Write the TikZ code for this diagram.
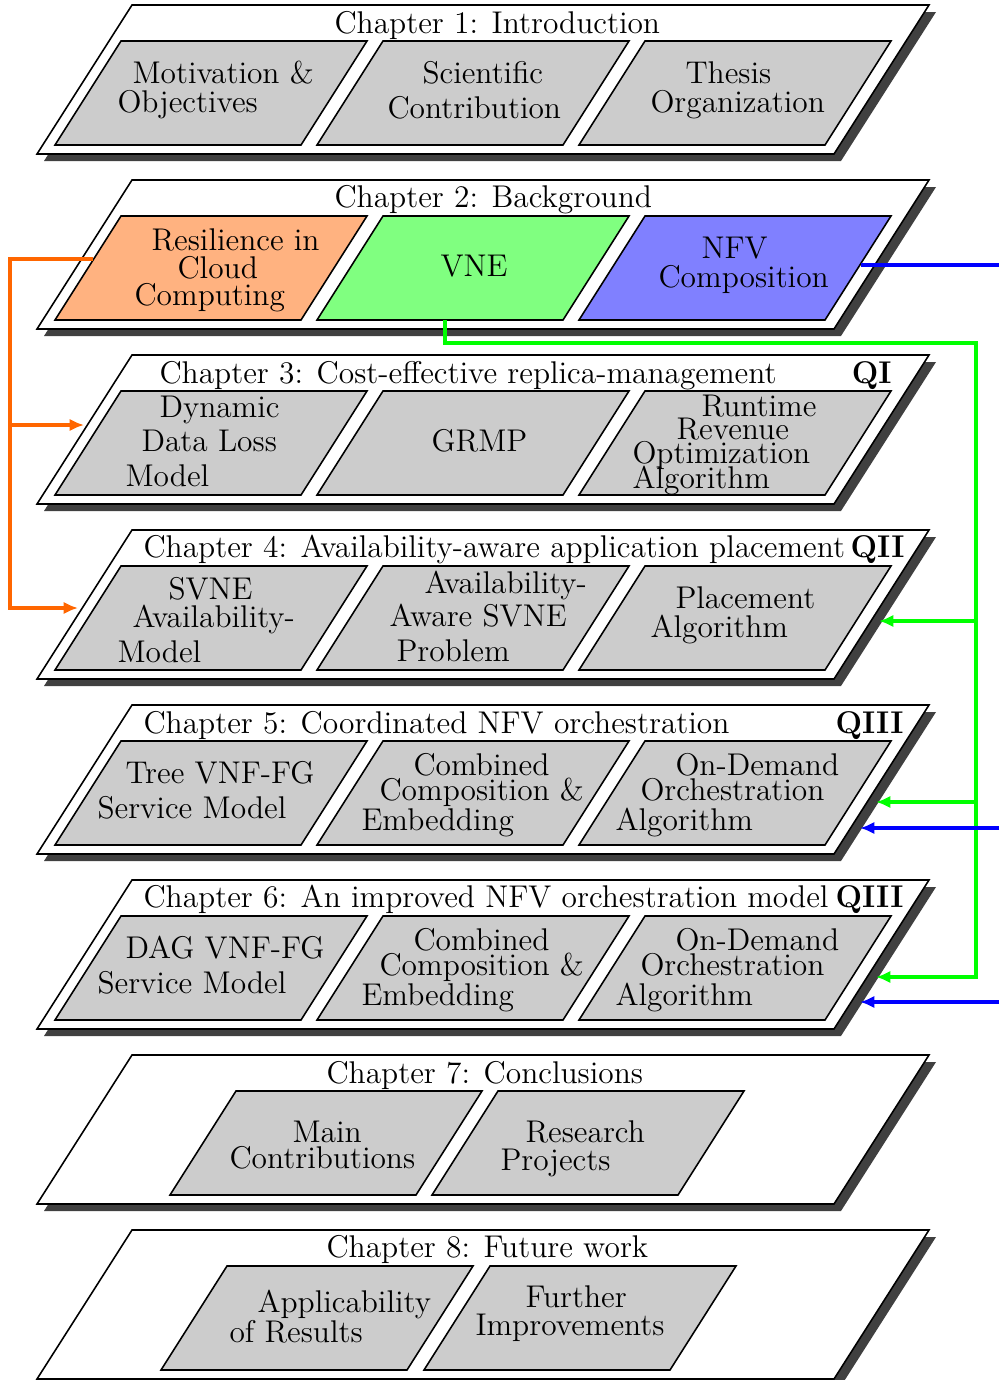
\documentclass[tikz,border=0pt]{standalone}
\usetikzlibrary{arrows.meta}

\definecolor{boxgray}{gray}{0.8}
\definecolor{shadowgray}{gray}{0.25}
\definecolor{resfill}{RGB}{255,178,128}
\definecolor{vnefill}{RGB}{128,255,128}
\definecolor{nfvfill}{RGB}{128,128,255}
\definecolor{olinec}{RGB}{255,102,0}
\definecolor{glinec}{RGB}{0,255,0}
\definecolor{blinec}{RGB}{0,0,255}

\tikzset{
  chapbox/.style={fill=white, draw=black, line width=0.6pt},
  partbox/.style={fill=boxgray, draw=black, line width=0.6pt},
  txt/.style={anchor=base west, inner sep=0pt, font=\fontsize{12}{14}\selectfont},
  qtag/.style={anchor=base east, inner sep=0pt, font=\fontsize{12}{14}\selectfont\bfseries},
  link/.style={line width=1.3pt, line join=miter},
  tip/.style={-{Latex[length=5.5pt,width=4.8pt]}},
}

% chapter frame with drop shadow; #1 = top edge
\newcommand\drawchapter[1]{%
  \fill[shadowgray] (139,#1+7) -- (936,#1+7) -- (841,#1+156) -- (44,#1+156) -- cycle;
  \draw[chapbox] (132,#1) -- (929,#1) -- (834,#1+149) -- (37,#1+149) -- cycle;}

% part box; #1 = fill, #2 = top-left x, #3 = chapter top edge
\newcommand\drawpart[3][boxgray]{%
  \draw[partbox, fill=#1] (#2,#3+36) -- (#2+246,#3+36) -- (#2+180,#3+140) -- (#2-66,#3+140) -- cycle;}

\begin{document}
\begin{tikzpicture}[x=0.382pt, y=-0.382pt]
\useasboundingbox (0,0) rectangle (999,1380);
\clip (0,0) rectangle (999,1380);

% chapter frames
\foreach \t in {5,180,355,530,705,880,1055,1230} {\drawchapter{\t}}

% part boxes
\foreach \t in {5,355,530,705,880} {
  \drawpart{121}{\t}\drawpart{383}{\t}\drawpart{645}{\t}}
\drawpart[resfill]{121}{180}
\drawpart[vnefill]{383}{180}
\drawpart[nfvfill]{645}{180}
\drawpart{236}{1055}\drawpart{498}{1055}
\drawpart{227}{1230}\drawpart{490}{1230}

% Chapter 1
\node[txt] (t1) at (334,33) {Chapter 1: Introduction};
\node[txt] (p11a) at (132,83) {Motivation \&};
\node[txt] (p11b) at (117,112) {Objectives};
\node[txt] (p12a) at (422,83) {Scientific};
\node[txt] (p12b) at (387,118) {Contribution};
\node[txt] (p13a) at (685,83) {Thesis};
\node[txt] (p13b) at (650,112) {Organization};

% Chapter 2
\node[txt] (t2) at (334,207) {Chapter 2: Background};
\node[txt] (p21a) at (151,250) {Resilience in};
\node[txt] (p21b) at (177,278) {Cloud};
\node[txt] (p21c) at (134,305) {Computing};
\node[txt] (p22a) at (440,276) {VNE};
\node[txt] (p23a) at (701,258) {NFV};
\node[txt] (p23b) at (658,287) {Composition};

% Chapter 3
\node[txt] (t3) at (159,383) {Chapter 3: Cost-effective replica-management};
\node[qtag] (q3) at (892,383) {QI};
\node[txt] (p31a) at (159,417) {Dynamic};
\node[txt] (p31b) at (141,451) {Data Loss};
\node[txt] (p31c) at (125,486) {Model};
\node[txt] (p32a) at (431,451) {GRMP};
\node[txt] (p33a) at (701,416) {Runtime};
\node[txt] (p33b) at (676,439) {Revenue};
\node[txt] (p33c) at (632,463) {Optimization};
\node[txt] (p33d) at (632,488) {Algorithm};

% Chapter 4
\node[txt] (t4) at (143,557) {Chapter 4: Availability-aware application placement};
\node[qtag] (q4) at (905,557) {QII};
\node[txt] (p41a) at (168,599) {SVNE};
\node[txt] (p41b) at (132,627) {Availability-};
\node[txt] (p41c) at (117,662) {Model};
\node[txt] (p42a) at (424,593) {Availability-};
\node[txt] (p42b) at (389,626) {Aware SVNE};
\node[txt] (p42c) at (396,661) {Problem};
\node[txt] (p43a) at (675,608) {Placement};
\node[txt] (p43b) at (650,637) {Algorithm};

% Chapter 5
\node[txt] (t5) at (143,733) {Chapter 5: Coordinated NFV orchestration};
\node[qtag] (q5) at (904,733) {QIII};
\node[txt] (p51a) at (125,783) {Tree VNF-FG};
\node[txt] (p51b) at (97,818) {Service Model};
\node[txt] (p52a) at (413,775) {Combined};
\node[txt] (p52b) at (379,800) {Composition \&};
\node[txt] (p52c) at (361,830) {Embedding};
\node[txt] (p53a) at (675,775) {On-Demand};
\node[txt] (p53b) at (640,800) {Orchestration};
\node[txt] (p53c) at (615,830) {Algorithm};

% Chapter 6
\node[txt] (t6) at (143,907) {Chapter 6: An improved NFV orchestration model};
\node[qtag] (q6) at (904,907) {QIII};
\node[txt] (p61a) at (125,958) {DAG VNF-FG};
\node[txt] (p61b) at (97,993) {Service Model};
\node[txt] (p62a) at (413,950) {Combined};
\node[txt] (p62b) at (379,975) {Composition \&};
\node[txt] (p62c) at (361,1005) {Embedding};
\node[txt] (p63a) at (675,950) {On-Demand};
\node[txt] (p63b) at (640,975) {Orchestration};
\node[txt] (p63c) at (615,1005) {Algorithm};

% Chapter 7
\node[txt] (t7) at (326,1083) {Chapter 7: Conclusions};
\node[txt] (p71a) at (292,1142) {Main};
\node[txt] (p71b) at (229,1168) {Contributions};
\node[txt] (p72a) at (525,1142) {Research};
\node[txt] (p72b) at (500,1170) {Projects};

% Chapter 8
\node[txt] (t8) at (326,1257) {Chapter 8: Future work};
\node[txt] (p81a) at (257,1312) {Applicability};
\node[txt] (p81b) at (229,1342) {of Results};
\node[txt] (p82a) at (525,1307) {Further};
\node[txt] (p82b) at (475,1335) {Improvements};

% connector end points
\coordinate (resW) at (93,259);
\coordinate (c3W) at (84,425);
\coordinate (c4W) at (78,608);
\coordinate (obranch) at (10,425);
\coordinate (vneS) at (445,320);
\coordinate (gbus) at (976,343);
\coordinate (gb4) at (976,621);
\coordinate (gb5) at (976,802);
\coordinate (c4E) at (879,621);
\coordinate (c5E) at (876,802);
\coordinate (c6E) at (876,977);
\coordinate (nfvE) at (861,265);
\coordinate (bout) at (999,265);
\coordinate (bin5) at (999,828);
\coordinate (bin6) at (999,1002);
\coordinate (c5Eb) at (860,828);
\coordinate (c6Eb) at (860,1002);

% resilience links
\draw[link, olinec, tip] (resW) -- (10,259) |- (c4W);
\draw[link, olinec, tip] (obranch) -- (c3W);

% VNE links
\draw[link, glinec, tip] (vneS) |- (gbus) |- (c6E);
\draw[link, glinec, tip] (gb4) -- (c4E);
\draw[link, glinec, tip] (gb5) -- (c5E);

% NFV composition links
\draw[link, blinec] (nfvE) -- (bout);
\draw[link, blinec, tip] (bin5) -- (c5Eb);
\draw[link, blinec, tip] (bin6) -- (c6Eb);
\end{tikzpicture}
\end{document}
